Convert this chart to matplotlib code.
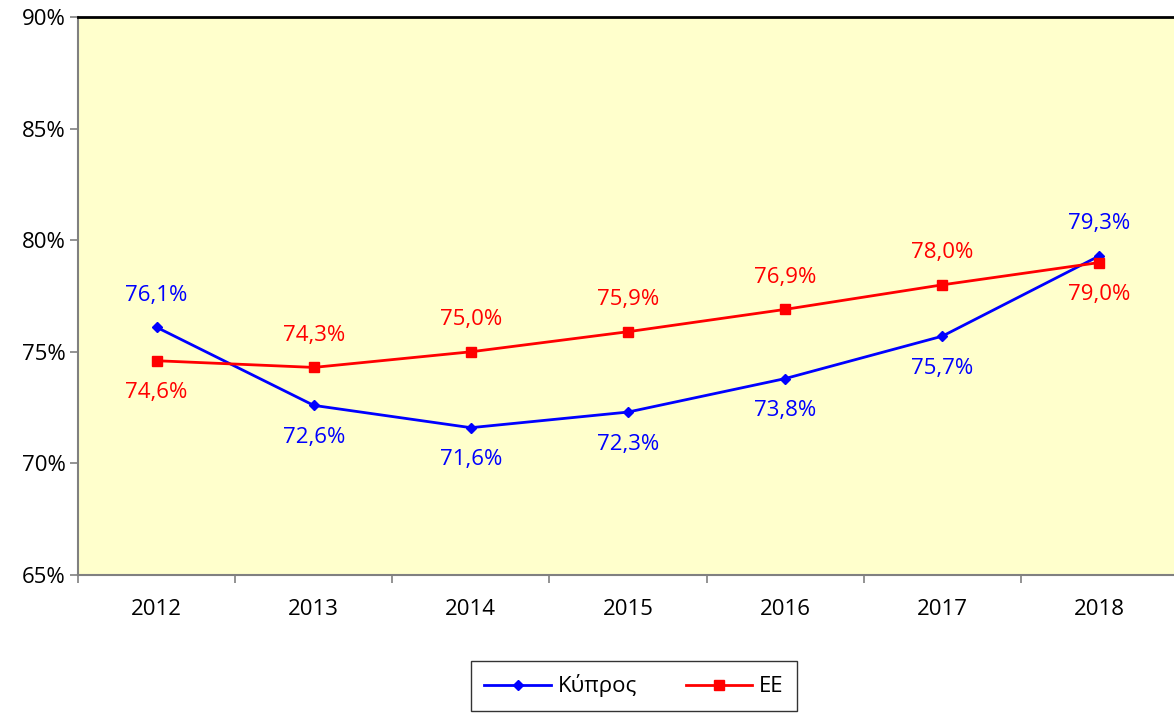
import numpy as np
import matplotlib.pyplot as plt
from matplotlib.ticker import FixedLocator

plt.rcParams['font.family'] = ['Open Sans', 'DejaVu Sans']

# ---- data ----
years = ["2012", "2013", "2014", "2015", "2016", "2017", "2018"]
cyprus = [76.1, 72.6, 71.6, 72.3, 73.8, 75.7, 79.3]
eu = [74.6, 74.3, 75.0, 75.9, 76.9, 78.0, 79.0]

# label placement: +1 above, -1 below
cy_side = [1, -1, -1, -1, -1, -1, 1]
eu_side = [-1, 1, 1, 1, 1, 1, -1]

blue = "#0000FF"
red = "#FF0000"
fs = 16

fig = plt.figure(figsize=(11.74, 7.13), dpi=100)
ax = fig.add_axes([78 / 1174, 1 - 575 / 713, 1100 / 1174, (575 - 17) / 713])
ax.set_facecolor("#FFFFCC")

x = np.arange(len(years))
ax.plot(x, cyprus, color=blue, lw=2, marker="D", ms=5.5, label="Κύπρος")
ax.plot(x, eu, color=red, lw=2, marker="s", ms=7, label="ΕΕ")

for xi, v, s in zip(x, cyprus, cy_side):
    ax.annotate(f"{v:.1f}%".replace(".", ","), (xi, v), xytext=(0, 23 * s),
                textcoords="offset points", ha="center", va="center",
                color=blue, fontsize=fs)
for xi, v, s in zip(x, eu, eu_side):
    ax.annotate(f"{v:.1f}%".replace(".", ","), (xi, v), xytext=(0, 23 * s),
                textcoords="offset points", ha="center", va="center",
                color=red, fontsize=fs)

ax.set_xlim(-0.5, 6.5)
ax.set_ylim(65, 90)
ax.set_yticks([65, 70, 75, 80, 85, 90])
ax.set_yticklabels([f"{t}%" for t in [65, 70, 75, 80, 85, 90]], fontsize=fs)
ax.set_xticks(x)
ax.set_xticklabels(years, fontsize=fs)
ax.xaxis.set_minor_locator(FixedLocator(np.arange(-0.5, 7, 1)))
ax.tick_params(axis="x", which="major", length=0, pad=17)
ax.tick_params(axis="x", which="minor", length=6, color="#808080", width=1.2)
ax.tick_params(axis="y", length=6, color="#808080", width=1.2, pad=3)

for side in ["left", "bottom"]:
    ax.spines[side].set_color("#808080")
    ax.spines[side].set_linewidth(1.5)
ax.spines["top"].set_color("black")
ax.spines["top"].set_linewidth(2)
ax.spines["right"].set_visible(False)

leg = fig.legend(loc="upper center", bbox_to_anchor=(634 / 1174, 1 - 650 / 713),
                 ncol=2, fontsize=fs, frameon=True, fancybox=False,
                 edgecolor="black", handlelength=3, columnspacing=2.2,
                 borderpad=0.6, handletextpad=0.3)
leg.get_frame().set_linewidth(1)

fig.savefig("out.png", dpi=100)
